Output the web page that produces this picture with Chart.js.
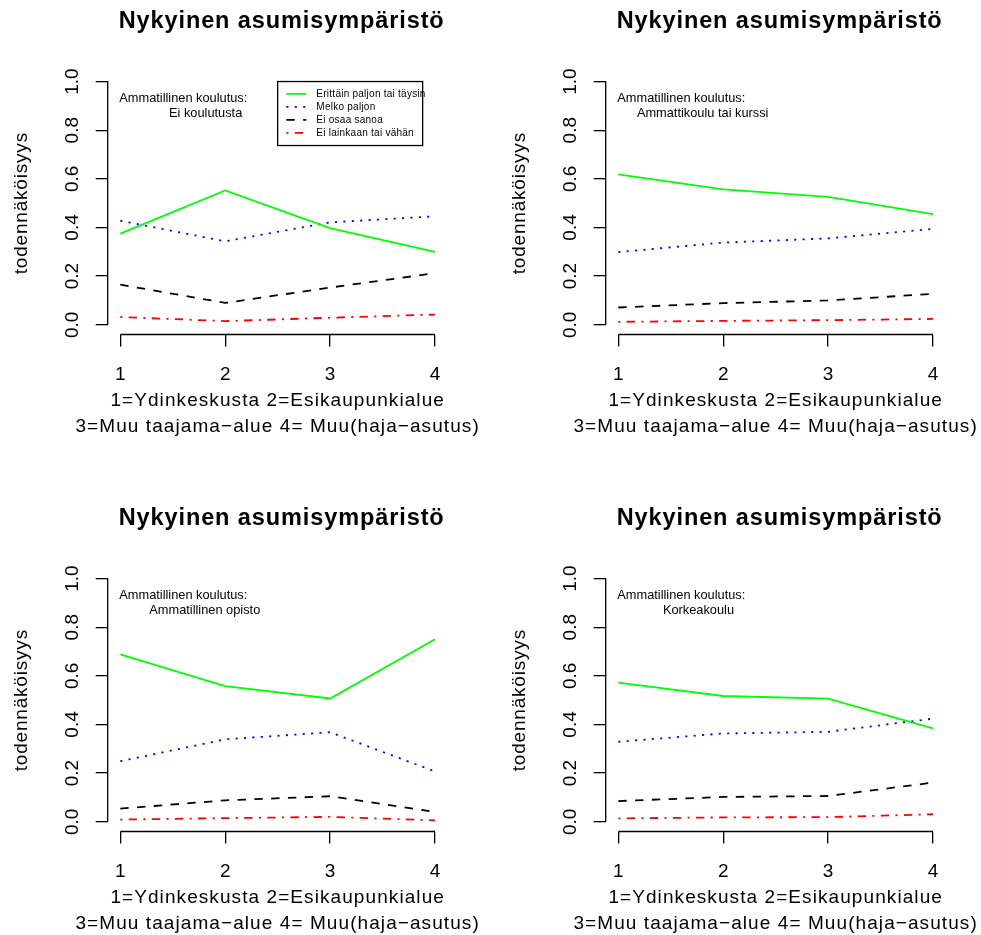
<!DOCTYPE html>
<html>
<head>
<meta charset="utf-8">
<title>Nykyinen asumisympäristö</title>
<script src="https://cdn.jsdelivr.net/npm/chart.js@4.4.1/dist/chart.umd.min.js"></script>
<style>
  body { margin: 0; background: #fff; width: 981px; height: 935px; overflow: hidden; position: relative; }
  canvas { position: absolute; }
</style>
</head>
<body>
<canvas id="p1" width="483" height="438" style="left:0px;top:0px"></canvas>
<canvas id="p2" width="483" height="438" style="left:498px;top:0px"></canvas>
<canvas id="p3" width="483" height="438" style="left:0px;top:497px"></canvas>
<canvas id="p4" width="483" height="438" style="left:498px;top:497px"></canvas>
<script>
// x categories and y ticks
var categories = [1, 2, 3, 4];
var yTicks = [0, 0.2, 0.4, 0.6, 0.8, 1.0];

var panelTitle = 'Nykyinen asumisympäristö';
var yTitle = 'todennäköisyys';
var xTitleLines = ['1=Ydinkeskusta 2=Esikaupunkialue', '3=Muu taajama\u2212alue 4= Muu(haja\u2212asutus)'];
var noteHeading = 'Ammatillinen koulutus:';
var educationLevels = ['Ei koulutusta', 'Ammattikoulu tai kurssi', 'Ammatillinen opisto', 'Korkeakoulu'];
var seriesLabels = ['Erittäin paljon tai täysin', 'Melko paljon', 'Ei osaa sanoa', 'Ei lainkaan tai vähän'];

// Ei koulutusta
var eiKoulErittain = [0.375, 0.552, 0.397, 0.300];
var eiKoulMelko = [0.428, 0.343, 0.421, 0.446];
var eiKoulEiOsaa = [0.165, 0.090, 0.153, 0.212];
var eiKoulEiLainkaan = [0.032, 0.015, 0.029, 0.042];

// Ammattikoulu tai kurssi
var ammattikErittain = [0.618, 0.557, 0.526, 0.455];
var ammattikMelko = [0.299, 0.338, 0.355, 0.394];
var ammattikEiOsaa = [0.071, 0.089, 0.100, 0.127];
var ammattikEiLainkaan = [0.012, 0.016, 0.019, 0.024];

// Ammatillinen opisto
var opistoErittain = [0.688, 0.558, 0.507, 0.750];
var opistoMelko = [0.249, 0.339, 0.368, 0.207];
var opistoEiOsaa = [0.054, 0.088, 0.105, 0.040];
var opistoEiLainkaan = [0.009, 0.015, 0.020, 0.006];

// Korkeakoulu
var korkeaErittain = [0.572, 0.517, 0.506, 0.384];
var korkeaMelko = [0.329, 0.363, 0.370, 0.424];
var korkeaEiOsaa = [0.085, 0.102, 0.106, 0.161];
var korkeaEiLainkaan = [0.014, 0.018, 0.019, 0.031];

// styles (R: green solid, blue dotted, black dashed, red dot-dash)
var seriesColors = ['#00ff00', '#0000ff', '#000000', '#ff0000'];
var seriesDash = [[], [2.1, 6.3], [8.4, 8.4], [2.1, 6.3, 8.4, 6.3]];
var FONT = '"Liberation Sans", Arial, sans-serif';

var rStyle = {
  id: 'rStyle',
  afterDraw: function (chart, args, opts) {
    var ctx = chart.ctx;
    var area = chart.chartArea;
    var xs = chart.scales.x, ys = chart.scales.y;
    var midX = (area.left + area.right) / 2;

    ctx.save();
    // axis lines only over the tick range, like R's axis()
    ctx.strokeStyle = '#000';
    ctx.lineWidth = 1.3;
    ctx.beginPath();
    ctx.moveTo(area.left, ys.getPixelForValue(yTicks[0]));
    ctx.lineTo(area.left, ys.getPixelForValue(yTicks[yTicks.length - 1]));
    ctx.moveTo(xs.getPixelForValue(categories[0]), area.bottom);
    ctx.lineTo(xs.getPixelForValue(categories[categories.length - 1]), area.bottom);
    ctx.stroke();

    ctx.fillStyle = '#000';
    ctx.textAlign = 'center';
    ctx.textBaseline = 'alphabetic';

    // main title
    ctx.font = 'bold 23.5px ' + FONT;
    ctx.letterSpacing = '0.9px';
    ctx.fillText(panelTitle, midX + 4, 28);

    // x label, two lines
    ctx.font = '19px ' + FONT;
    ctx.letterSpacing = '1.08px';
    ctx.fillText(xTitleLines[0], midX, area.bottom + 71.5);
    ctx.fillText(xTitleLines[1], midX, area.bottom + 97.2);

    // y label
    ctx.save();
    ctx.translate(26.5, (area.top + area.bottom) / 2);
    ctx.rotate(-Math.PI / 2);
    ctx.letterSpacing = '0.8px';
    ctx.fillText(yTitle, 0, 0);
    ctx.restore();

    // note in the corner
    ctx.letterSpacing = '0px';
    ctx.textAlign = 'left';
    ctx.textBaseline = 'middle';
    ctx.font = '12.8px ' + FONT;
    ctx.fillText(noteHeading, area.left + 11.6, 98.8);
    ctx.fillText(opts.level, area.left + opts.indent, 113.8);

    // legend box
    if (opts.legend) {
      var lx = xs.getPixelForValue(2.5), ly = ys.getPixelForValue(1);
      ctx.strokeStyle = '#000';
      ctx.lineWidth = 1.3;
      ctx.strokeRect(lx, ly, 145, 64);
      ctx.font = '10px ' + FONT;
      ctx.letterSpacing = '0.25px';
      chart.data.datasets.forEach(function (ds, i) {
        var ry = ly + 12.3 + i * 13;
        ctx.strokeStyle = ds.borderColor;
        ctx.lineWidth = 1.8;
        ctx.setLineDash(ds.borderDash);
        ctx.beginPath();
        ctx.moveTo(lx + 8.7, ry);
        ctx.lineTo(lx + 28.7, ry);
        ctx.stroke();
        ctx.setLineDash([]);
        ctx.fillText(ds.label, lx + 38.7, ry);
      });
    }
    ctx.restore();
  }
};

function tickGrid() {
  return { drawOnChartArea: false, drawTicks: true, tickLength: 12, color: '#000', lineWidth: 1.3 };
}

function makePanel(id, level, indent, series, showLegend) {
  var datasets = series.map(function (vals, i) {
    return {
      label: seriesLabels[i],
      data: categories.map(function (c, j) { return { x: c, y: vals[j] }; }),
      borderColor: seriesColors[i],
      borderDash: seriesDash[i],
      borderWidth: 1.8,
      pointRadius: 0,
      tension: 0,
      fill: false
    };
  });

  return new Chart(document.getElementById(id), {
    type: 'line',
    data: { datasets: datasets },
    options: {
      responsive: false,
      animation: false,
      events: [],
      layout: { padding: { left: 0, top: 71.8, right: 35.4, bottom: 3.5 } },
      plugins: {
        legend: { display: false },
        tooltip: { enabled: false },
        rStyle: { level: level, indent: indent, legend: showLegend }
      },
      scales: {
        x: {
          type: 'linear',
          min: 0.88,
          max: 4.12,
          afterFit: function (s) { s.height = 100; },
          afterBuildTicks: function (s) { s.ticks = categories.map(function (v) { return { value: v }; }); },
          grid: tickGrid(),
          border: { display: false },
          ticks: {
            color: '#000',
            font: { family: FONT, size: 19 },
            padding: 17,
            maxRotation: 0,
            autoSkip: false,
            callback: function (v) { return String(v); }
          }
        },
        y: {
          type: 'linear',
          min: -0.04,
          max: 1.04,
          afterFit: function (s) { s.width = 107.7; },
          afterBuildTicks: function (s) { s.ticks = yTicks.map(function (v) { return { value: v }; }); },
          grid: tickGrid(),
          border: { display: false },
          ticks: {
            color: '#000',
            font: { family: FONT, size: 19 },
            padding: 9.5,
            minRotation: 90,
            maxRotation: 90,
            crossAlign: 'center',
            autoSkip: false,
            callback: function (v) { return v.toFixed(1); }
          }
        }
      }
    },
    plugins: [rStyle]
  });
}

makePanel('p1', educationLevels[0], 61.3,
  [eiKoulErittain, eiKoulMelko, eiKoulEiOsaa, eiKoulEiLainkaan], true);
makePanel('p2', educationLevels[1], 31.2,
  [ammattikErittain, ammattikMelko, ammattikEiOsaa, ammattikEiLainkaan], false);
makePanel('p3', educationLevels[2], 41.6,
  [opistoErittain, opistoMelko, opistoEiOsaa, opistoEiLainkaan], false);
makePanel('p4', educationLevels[3], 57.2,
  [korkeaErittain, korkeaMelko, korkeaEiOsaa, korkeaEiLainkaan], false);
</script>
</body>
</html>
